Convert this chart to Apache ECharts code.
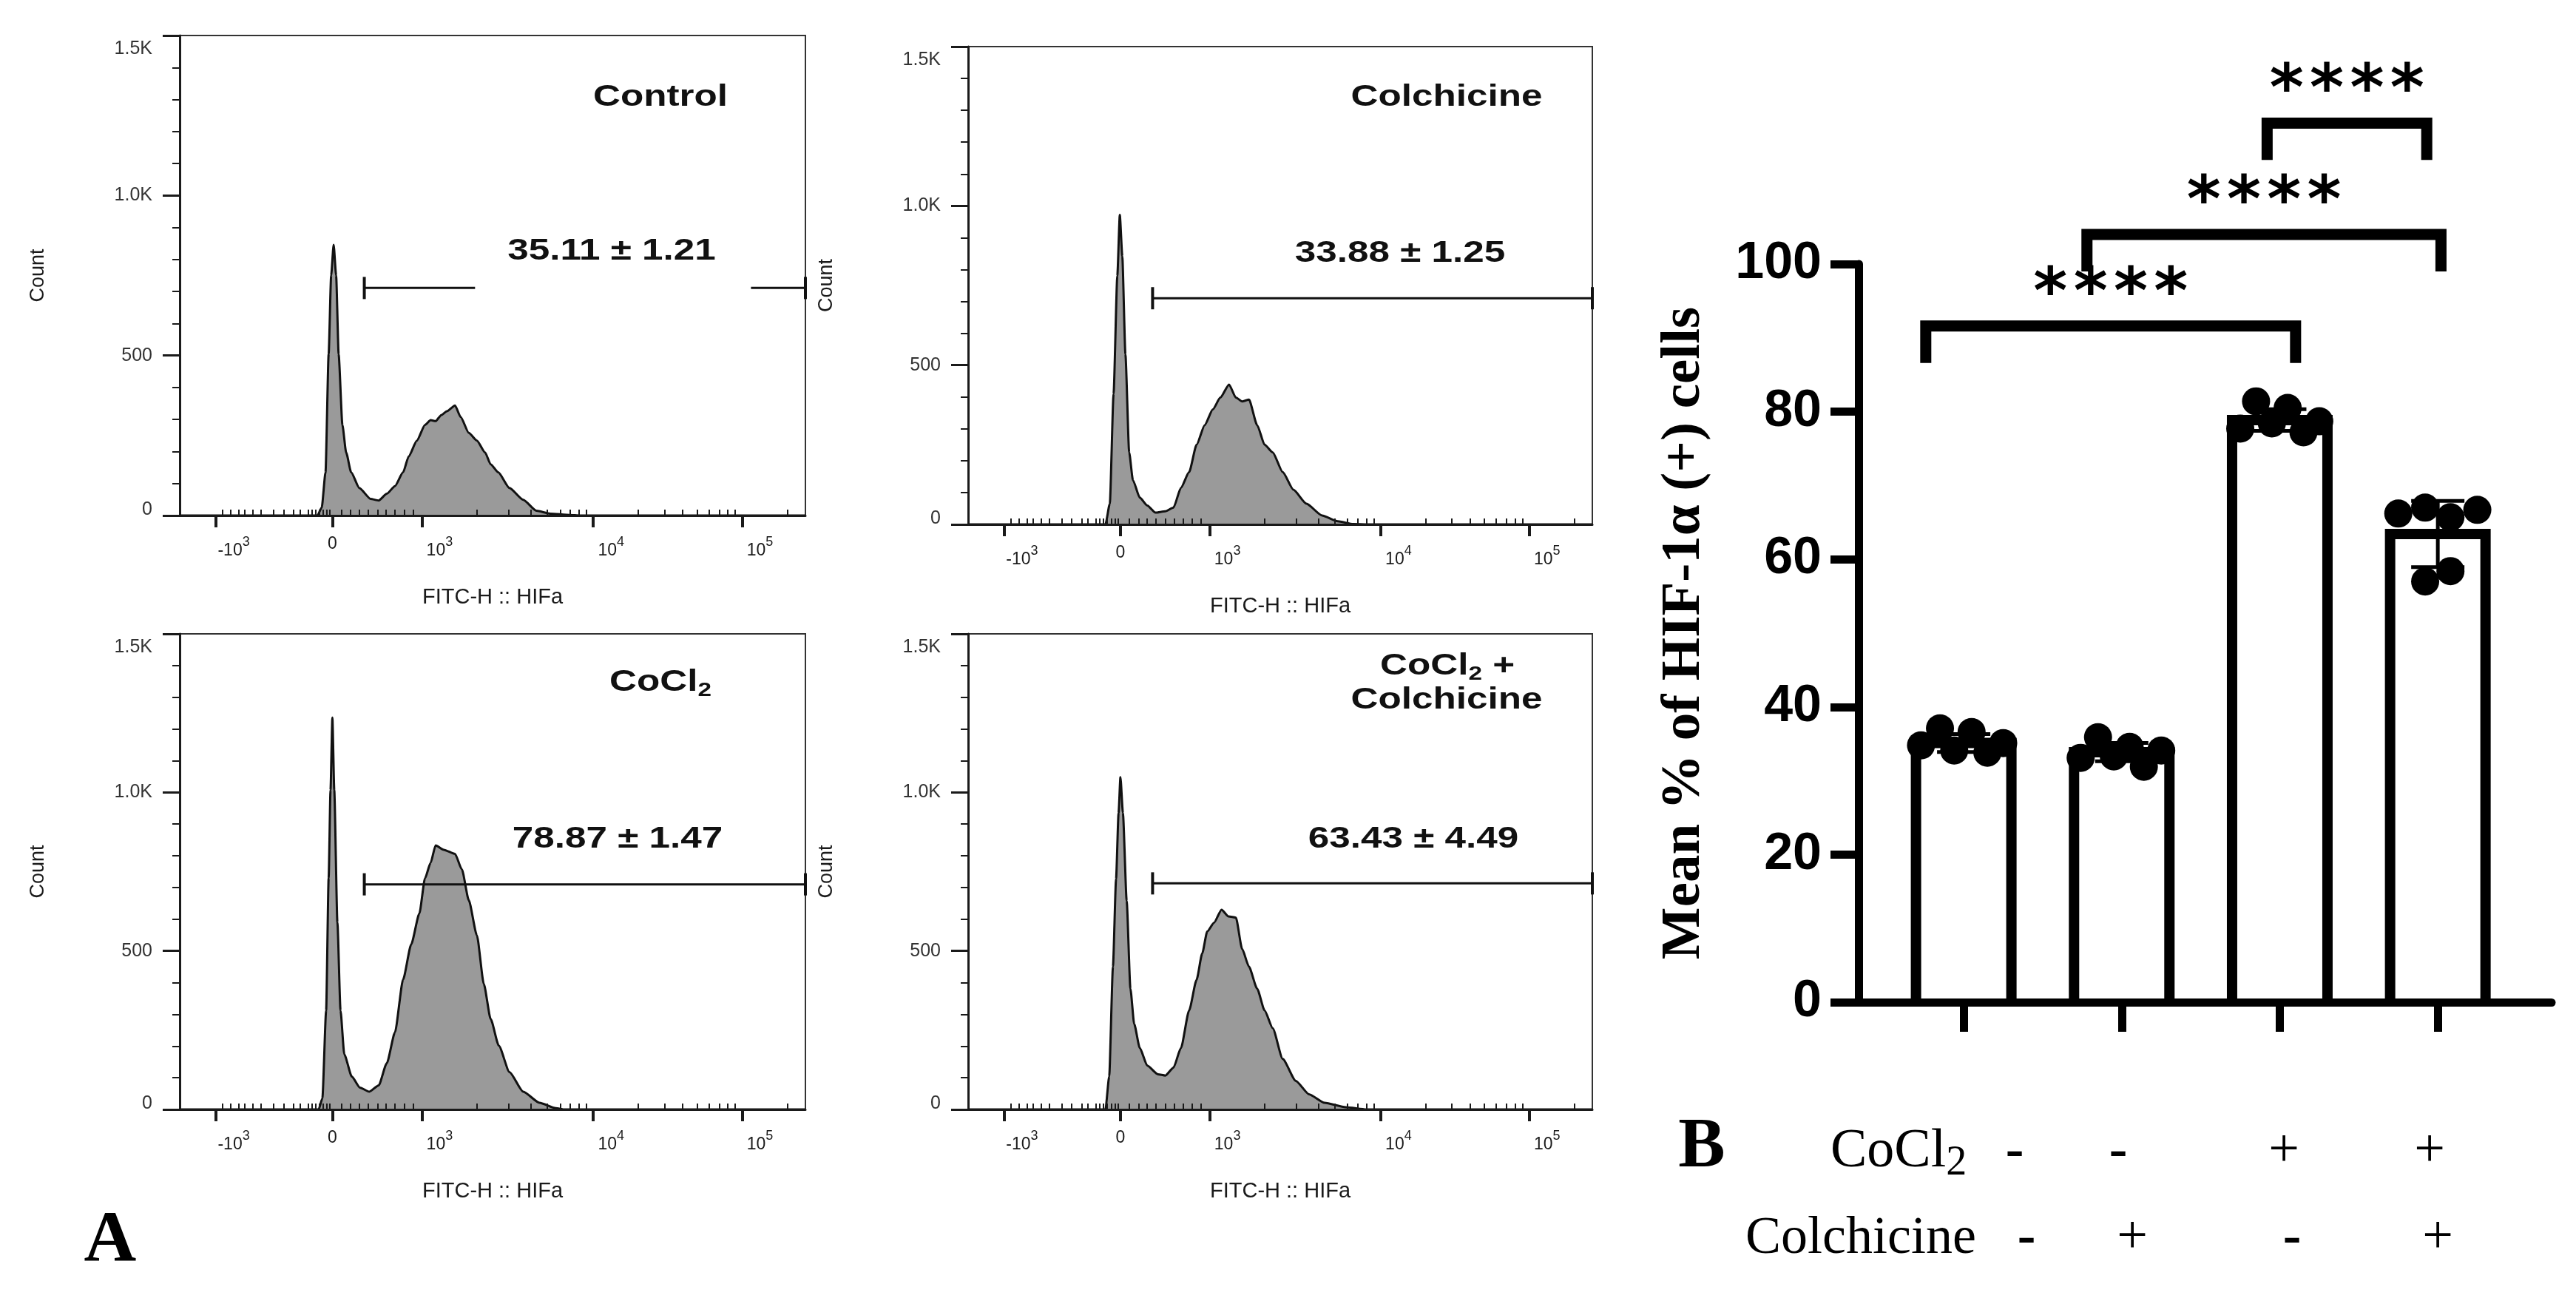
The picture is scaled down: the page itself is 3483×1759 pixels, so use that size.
<!DOCTYPE html>
<html><head><meta charset="utf-8">
<script src="https://cdn.jsdelivr.net/npm/echarts@6/dist/echarts.min.js"></script>
<style>html,body{margin:0;padding:0;background:#fff}#c{width:3483px;height:1759px}</style>
</head><body><div id="c"></div>
<script>
// ---------------- DATA ----------------
// Flow histograms: [display channel (0-1000 across the plot), cell count]
const controlHist = [[0,0],[220,0],[227,25],[233,135],[238,504],[242,750],[246,846],[250,750],[254,504],[260,283],[266,197],[274,135],[287,86],[305,52],[318,47],[331,68],[344,92],[357,135],[366,185],[379,234],[392,283],[401,298],[409,295],[418,314],[427,326],[440,344],[449,308],[462,258],[475,234],[488,197],[497,160],[509,135],[527,86],[549,49],[570,15],[592,6],[623,2],[640,0],[1000,0]];
const colchicineHist = [[0,0],[220,0],[227,65],[233,410],[239,780],[243,972],[247,842],[252,534],[258,226],[264,139],[275,84],[287,59],[300,37],[316,41],[329,53],[341,115],[354,164],[366,250],[379,312],[392,361],[404,398],[418,439],[429,398],[439,386],[450,392],[463,312],[475,250],[488,226],[504,164],[521,109],[542,65],[567,28],[592,10],[617,1],[640,0],[1000,0]];
const cocl2Hist = [[0,0],[222,0],[228,35],[234,312],[238,729],[241,1007],[244,1236],[247,1007],[252,590],[257,312],[263,174],[275,104],[288,69],[303,56],[318,76],[331,146],[344,243],[357,410],[370,521],[383,618],[392,729],[401,778],[409,833],[422,819],[440,806],[451,757],[462,660],[475,549],[486,396],[497,285],[510,201],[527,118],[549,56],[575,21],[601,4],[615,0],[1000,0]];
const comboHist = [[0,0],[220,0],[226,104],[232,450],[237,727],[241,935],[244,1048],[248,935],[254,658],[260,381],[266,270],[275,194],[287,138],[304,111],[316,107],[329,132],[341,194],[354,312],[366,409],[375,492],[383,561],[394,589],[406,630],[417,609],[429,605],[439,506],[450,450],[463,381],[475,312],[488,256],[504,159],[525,90],[546,48],[571,21],[605,7],[638,0],[1000,0]];

const panelTitles = ['Control', 'Colchicine', 'CoCl2', 'CoCl2 +|Colchicine'];
const gateText = ['35.11 ± 1.21', '33.88 ± 1.25', '78.87 ± 1.47', '63.43 ± 4.49'];
const gateFrom = [295, 295.5, 295, 295.5];
const gateTo = [1000, 1000, 1000, 1000];
const gateCount = [711, 710, 710, 713];
const gateGap = [[472, 913], null, null, null];

const countMax = 1500, countStep = 500;
const xMajorPos = [58, 244, 387, 661, 899];
const xMajorText = ['-10^3', '0', '10^3', '10^4', '10^5'];
const xMinorPos = [68,81,94,104,117,130,150,166,182,192,205,211,217,223,229,235,240,258,273,287,301,316,330,344,359,373,475,526,561,587,608,624,638,650,733,775,804,827,846,862,876,888,971];

// Bar chart
const groupIdx = [1, 2, 3, 4];
const meanPct = [35.11, 33.88, 78.87, 63.43];
const sdPct = [1.21, 1.25, 1.47, 4.49];
const controlPts = [34.8, 37.1, 34.1, 36.6, 33.8, 35.1];
const colchicinePts = [33.1, 35.9, 33.3, 34.6, 31.9, 34.1];
const cocl2Pts = [77.7, 81.4, 78.4, 80.5, 77.2, 78.7];
const comboPts = [66.2, 67.0, 65.7, 66.7, 57.0, 58.4];
const controlSpread = [-0.27, -0.15, -0.06, 0.05, 0.15, 0.25];
const colchicineSpread = [-0.26, -0.15, -0.05, 0.05, 0.14, 0.25];
const cocl2Spread = [-0.25, -0.15, -0.05, 0.05, 0.15, 0.25];
const comboSpread = [-0.25, -0.08, 0.08, 0.25, -0.08, 0.08];

const bracketFrom = [0.76, 1.78, 2.92];
const bracketTo = [3.10, 4.02, 3.93];
const bracketTop = [91.6, 104.0, 119.1];
const bracketLeg = 5.0;
const starText = ['****', '****', '****'];

const cocl2Row = ['-', '-', '+', '+'];
const colchicineRow = ['-', '+', '-', '+'];

// ---------------- LAYOUT ----------------
const panelGrids = [
  {left: 243, top: 48, width: 846, height: 649},
  {left: 1309, top: 63, width: 844, height: 646},
  {left: 243, top: 857, width: 846, height: 643},
  {left: 1309, top: 857, width: 844, height: 643}
];
const titlePos = [[893, 132], [1956, 132], [893, 923], [1957, 901, 947]];
const gateTextPos = [[827, 340], [1893, 343], [835, 1135], [1911, 1135]];
const histograms = [controlHist, colchicineHist, cocl2Hist, comboHist];
const F = 'Liberation Sans', SERIF = 'Liberation Serif';
const INK = '#1a1a1a';
const BAR_HALF_PX = 64.5, BAR_BORDER = 14;

const grids = [], xAxes = [], yAxes = [], series = [], graphics = [];

function fmtX(v) {
  const k = xMajorPos.indexOf(v);
  const t = xMajorText[k];
  if (t === undefined) return '';
  if (t.indexOf('^') < 0) return '{n|' + t + '}';
  const p = t.split('^');
  return '{sp| }{n|' + p[0] + '}{sup|' + p[1] + '}';
}
function fmtY(v) {
  if (v === 1500) return '{top|1.5K}';
  if (v === 1000) return '{n|1.0K}';
  if (v === 0) return '{bot|0}';
  return '{n|' + v + '}';
}

panelGrids.forEach((g, i) => {
  grids.push(Object.assign({show: true, borderColor: '#333', borderWidth: 2, backgroundColor: 'transparent'}, g));
  xAxes.push({
    gridIndex: i, type: 'value', min: 0, max: 1000, z: 3,
    name: 'FITC-H :: HIFa', nameLocation: 'middle', nameGap: 96,
    nameTextStyle: {fontFamily: F, fontSize: 29, color: INK},
    axisLine: {show: true, onZero: false, lineStyle: {color: INK, width: 3}},
    axisTick: {show: true, customValues: xMajorPos, length: 16, lineStyle: {color: INK, width: 4}},
    axisLabel: {show: true, customValues: xMajorPos, formatter: fmtX, margin: 27,
      rich: {n: {fontFamily: F, fontSize: 23, color: INK},
             sup: {fontFamily: F, fontSize: 18, color: INK, padding: [0, 0, 24, 0]},
             sp: {width: 48, fontSize: 23}}},
    splitLine: {show: false}
  });
  xAxes.push({
    gridIndex: i, type: 'value', min: 0, max: 1000, z: 3,
    axisLine: {show: false},
    axisTick: {show: true, customValues: xMinorPos, length: 8, lineStyle: {color: INK, width: 2}},
    axisLabel: {show: false}, splitLine: {show: false}
  });
  yAxes.push({
    gridIndex: i, type: 'value', min: 0, max: countMax, interval: countStep, z: 3,
    name: 'Count', nameLocation: 'middle', nameGap: 178, nameRotate: 90,
    nameTextStyle: {fontFamily: F, fontSize: 27, color: INK},
    axisLine: {show: true, lineStyle: {color: INK, width: 3}},
    axisTick: {show: true, length: 23, lineStyle: {color: INK, width: 3}},
    minorTick: {show: true, splitNumber: 5, length: 10, lineStyle: {color: INK, width: 2}},
    axisLabel: {formatter: fmtY, margin: 37,
      rich: {n: {fontFamily: F, fontSize: 25, color: '#333'},
             top: {fontFamily: F, fontSize: 25, color: '#333', padding: [36, 0, 0, 0]},
             bot: {fontFamily: F, fontSize: 25, color: '#333', padding: [0, 0, 16, 0]}}},
    splitLine: {show: false}, minorSplitLine: {show: false}
  });
  series.push({
    type: 'line', xAxisIndex: 2 * i, yAxisIndex: i, data: histograms[i],
    symbol: 'none', smooth: 0.2, smoothMonotone: 'x', silent: true, z: 2,
    lineStyle: {color: '#111', width: 3}, areaStyle: {color: '#9a9a9a', opacity: 1}
  });
  const cap = {symbol: 'rect', symbolSize: [4, 30]};
  const segs = gateGap[i]
    ? [[Object.assign({value: [gateFrom[i], gateCount[i]]}, cap), {value: [gateGap[i][0], gateCount[i]], symbol: 'none'}],
       [{value: [gateGap[i][1], gateCount[i]], symbol: 'none'}, Object.assign({value: [gateTo[i], gateCount[i]]}, cap)]]
    : [[Object.assign({value: [gateFrom[i], gateCount[i]]}, cap), Object.assign({value: [gateTo[i], gateCount[i]]}, cap)]];
  segs.forEach(s => series.push({
    type: 'line', xAxisIndex: 2 * i, yAxisIndex: i, data: s, showSymbol: true, clip: false, silent: true, z: 4,
    lineStyle: {color: '#111', width: 3}, itemStyle: {color: '#111'}
  }));
  const txt = (text, x, y, extra) => ({
    type: 'text', x: x, y: y, scaleX: 1.28, z: 50,
    style: Object.assign({text: text, fontSize: 40, fontWeight: 'bold', fontFamily: F, fill: '#111',
      align: 'center', verticalAlign: 'middle', textAlign: 'center', textVerticalAlign: 'middle'}, extra || {})
  });
  const richCo = {a: {fontSize: 40, fontWeight: 'bold', fontFamily: F, fill: '#111'},
                  s: {fontSize: 26, fontWeight: 'bold', fontFamily: F, fill: '#111', padding: [22, 0, 0, 0]}};
  const t = panelTitles[i];
  const tp = titlePos[i];
  if (t.indexOf('|') >= 0) {
    const lines = t.split('|');
    graphics.push(txt('{a|CoCl}{s|2}{a| +}', tp[0], tp[1], {rich: richCo}));
    graphics.push(txt(lines[1], tp[0] - 1, tp[2]));
  } else if (t === 'CoCl2') {
    graphics.push(txt('{a|CoCl}{s|2}', tp[0], tp[1], {rich: richCo}));
  } else {
    graphics.push(txt(t, tp[0], tp[1]));
  }
  graphics.push(txt(gateText[i], gateTextPos[i][0], gateTextPos[i][1]));
});

// ---------------- BAR CHART ----------------
const BI = 4, BX = 8;
grids.push({left: 2513, top: 357, width: 937, height: 998});
xAxes.push({
  gridIndex: BI, type: 'value', min: 0.335, max: 4.72, z: 3,
  axisLine: {show: true, onZero: false, lineStyle: {color: '#000', width: 11}},
  axisTick: {show: true, customValues: groupIdx, length: 40, lineStyle: {color: '#000', width: 11}},
  axisLabel: {show: false}, splitLine: {show: false}
});
yAxes.push({
  gridIndex: BI, type: 'value', min: 0, max: 100, interval: 20, z: 3,
  name: 'Mean % of HIF-1α (+) cells', nameLocation: 'middle', nameGap: 198, nameRotate: 90,
  nameTextStyle: {fontFamily: SERIF, fontWeight: 'bold', fontSize: 75, color: '#000'},
  axisLine: {show: true, lineStyle: {color: '#000', width: 11}},
  axisTick: {show: true, length: 38, lineStyle: {color: '#000', width: 11}},
  axisLabel: {margin: 50, fontFamily: F, fontWeight: 'bold', fontSize: 70, color: '#000'},
  splitLine: {show: false}
});
// open-bottom bars (white fill, thick black outline on left/top/right)
series.push({
  type: 'custom', xAxisIndex: BX, yAxisIndex: BI, z: 2, silent: true, clip: false,
  data: groupIdx.map((g, i) => [g, meanPct[i]]),
  renderItem: function (params, api) {
    const top = api.coord([api.value(0), api.value(1)]);
    const base = api.coord([api.value(0), 0]);
    const l = top[0] - BAR_HALF_PX, r = top[0] + BAR_HALF_PX;
    return {type: 'group', children: [
      {type: 'rect', shape: {x: l, y: top[1], width: r - l, height: base[1] - top[1]}, style: {fill: '#fff'}},
      {type: 'polyline', shape: {points: [[l, base[1]], [l, top[1]], [r, top[1]], [r, base[1]]]},
       style: {stroke: '#000', lineWidth: BAR_BORDER, fill: null, lineJoin: 'miter', lineCap: 'butt'}}
    ]};
  }
});
series.push({
  type: 'custom', xAxisIndex: BX, yAxisIndex: BI, z: 3, silent: true, clip: false,
  data: groupIdx.map((g, i) => [g, meanPct[i], sdPct[i]]),
  renderItem: function (params, api) {
    const x = api.value(0), m = api.value(1), s = api.value(2);
    const hi = api.coord([x, m + s]), lo = api.coord([x, m - s]);
    const hw = 36, st = {stroke: '#000', lineWidth: 5};
    return {type: 'group', children: [
      {type: 'line', shape: {x1: hi[0], y1: hi[1], x2: lo[0], y2: lo[1]}, style: st},
      {type: 'line', shape: {x1: hi[0] - hw, y1: hi[1], x2: hi[0] + hw, y2: hi[1]}, style: st},
      {type: 'line', shape: {x1: lo[0] - hw, y1: lo[1], x2: lo[0] + hw, y2: lo[1]}, style: st}
    ]};
  }
});
const allPts = [controlPts, colchicinePts, cocl2Pts, comboPts];
const allSpread = [controlSpread, colchicineSpread, cocl2Spread, comboSpread];
const dots = [];
allPts.forEach((arr, gi) => arr.forEach((v, j) => dots.push([groupIdx[gi] + allSpread[gi][j], v])));
series.push({
  type: 'scatter', xAxisIndex: BX, yAxisIndex: BI, data: dots, symbol: 'circle', symbolSize: 38,
  itemStyle: {color: '#000', opacity: 1}, z: 4, silent: true, clip: false
});
bracketFrom.forEach((x1, k) => {
  const x2 = bracketTo[k], yt = bracketTop[k], yb = yt - bracketLeg;
  series.push({
    type: 'line', xAxisIndex: BX, yAxisIndex: BI, data: [[x1, yb], [x1, yt], [x2, yt], [x2, yb]],
    symbol: 'none', clip: false, silent: true, z: 5,
    lineStyle: {color: '#000', width: 15, cap: 'butt', join: 'miter'}
  });
});
// significance stars: one label per character, evenly spaced above each bracket
const starItems = [];
bracketFrom.forEach((x1, k) => {
  const chars = starText[k].split('');
  chars.forEach((c, j) => starItems.push({
    value: [(x1 + bracketTo[k]) / 2, bracketTop[k] + 6.2], name: c,
    label: {offset: [(j - (chars.length - 1) / 2) * 54.3, 21]}
  }));
});
series.push({
  type: 'scatter', xAxisIndex: BX, yAxisIndex: BI, clip: false, silent: true, z: 6,
  data: starItems, symbolSize: 2, itemStyle: {color: 'rgba(0,0,0,0)', opacity: 1},
  label: {show: true, position: 'inside', formatter: p => p.name,
    fontFamily: 'DejaVu Sans', fontWeight: 'bold', fontSize: 88, color: '#000'}
});

// bottom treatment table and panel letters
const serifTxt = (text, x, y, size, weight, align, rich) => ({
  type: 'text', x: x, y: y, z: 50,
  style: {text: text, fontSize: size, fontWeight: weight, fontFamily: SERIF, fill: '#000', rich: rich,
    align: align, verticalAlign: 'middle', textAlign: align, textVerticalAlign: 'middle'}
});
graphics.push(serifTxt('A', 149, 1679, 98, 'bold', 'center'));
graphics.push(serifTxt('B', 2301, 1552, 95, 'bold', 'center'));
graphics.push(serifTxt('{a|CoCl}{s|2}', 2475, 1558, 74, 'normal', 'left',
  {a: {fontSize: 74, fontFamily: SERIF, fill: '#000'}, s: {fontSize: 56, fontFamily: SERIF, fill: '#000', padding: [30, 0, 0, 0]}}));
graphics.push(serifTxt('Colchicine', 2360, 1675, 72, 'normal', 'left'));
const row1X = [2724, 2864, 3088, 3285], row2X = [2740, 2883, 3099, 3296];
cocl2Row.forEach((s, i) => graphics.push(serifTxt(s, row1X[i], 1558, 74, s === '-' ? 'bold' : 'normal', 'center')));
colchicineRow.forEach((s, i) => graphics.push(serifTxt(s, row2X[i], 1675, 74, s === '-' ? 'bold' : 'normal', 'center')));

const chart = echarts.init(document.getElementById('c'), null, {renderer: 'canvas'});
chart.setOption({
  animation: false,
  backgroundColor: '#fff',
  grid: grids, xAxis: xAxes, yAxis: yAxes, series: series,
  graphic: {elements: graphics}
});
</script></body></html>
